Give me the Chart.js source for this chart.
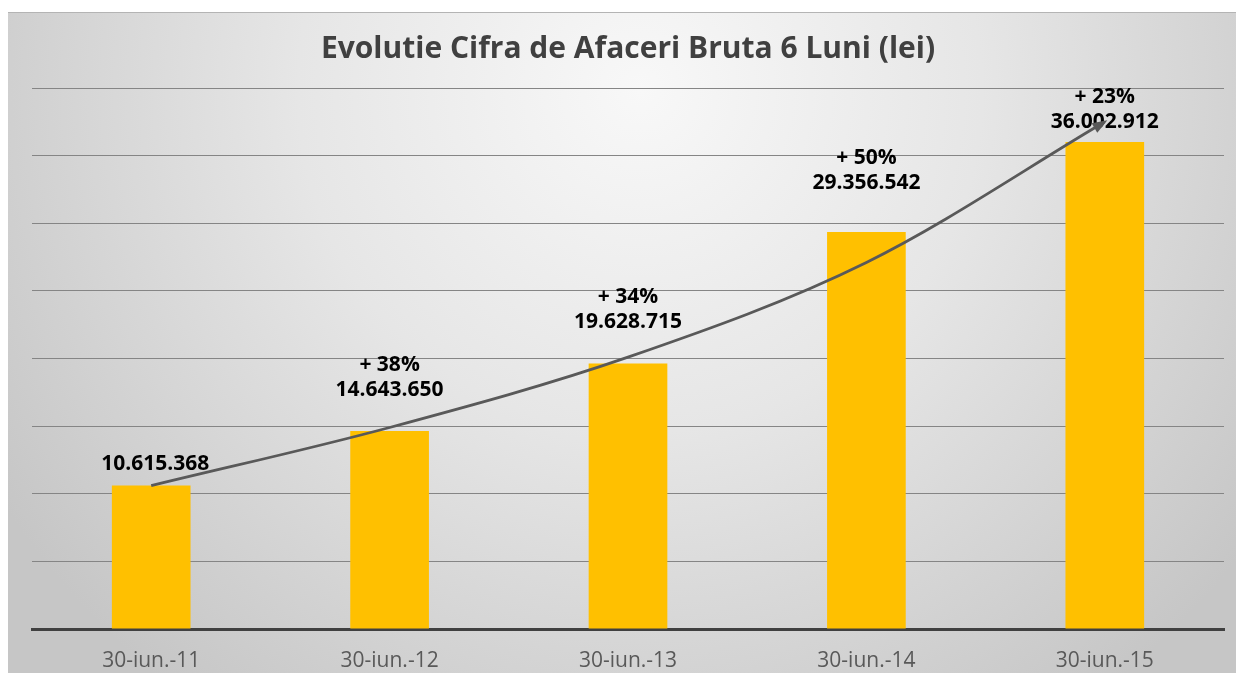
<!DOCTYPE html>
<html>
<head>
<meta charset="utf-8">
<script src="https://cdn.jsdelivr.net/npm/chart.js@4/dist/chart.umd.min.js"></script>
<style>
  html, body { margin: 0; padding: 0; background: #ffffff; }
  #wrap { width: 1236px; height: 673px; position: relative; }
</style>
</head>
<body>
<div id="wrap"><canvas id="c" width="1236" height="673"></canvas></div>
<script>
// ---- data ----
const categories = ['30-iun.-11', '30-iun.-12', '30-iun.-13', '30-iun.-14', '30-iun.-15'];
const revenue = [10615368, 14643650, 19628715, 29356542, 36002912];
const growth = ['', '+ 38%', '+ 34%', '+ 50%', '+ 23%'];
const trend = [10600000, 14900000, 20100000, 27100000, 37500000]; // read from the curved arrow
const yMin = 0;
const yMax = 40000000;
const yStep = 5000000;
const chartTitle = 'Evolutie Cifra de Afaceri Bruta 6 Luni (lei)';

// ---- helpers ----
function fmt(v) { return String(v).replace(/\B(?=(\d{3})+(?!\d))/g, '.'); }

const labelLift = [21, 41, 42, 49, 20]; // px above bar top for value line

const bgPlugin = {
  id: 'bg',
  beforeDraw(chart) {
    const ctx = chart.ctx;
    ctx.save();
    ctx.fillStyle = '#ffffff';
    ctx.fillRect(0, 0, chart.width, chart.height);
    const g = ctx.createRadialGradient(640, 90, 0, 640, 90, 760);
    g.addColorStop(0, '#f8f8f8');
    g.addColorStop(0.45, '#e6e6e6');
    g.addColorStop(1, '#c6c6c6');
    ctx.fillStyle = g;
    ctx.fillRect(8, 12, chart.width - 8, chart.height - 12);
    ctx.strokeStyle = '#b4b4b4';
    ctx.lineWidth = 1;
    ctx.beginPath();
    ctx.moveTo(8, 12.5);
    ctx.lineTo(chart.width, 12.5);
    ctx.stroke();
    ctx.restore();
  }
};

const labelPlugin = {
  id: 'labels',
  beforeDatasetsDraw(chart) {
    const ctx = chart.ctx;
    const meta = chart.getDatasetMeta(0);
    ctx.save();
    ctx.fillStyle = '#000000';
    ctx.textAlign = 'center';
    ctx.textBaseline = 'middle';
    ctx.font = 'bold 21px "Open Sans"';
    meta.data.forEach((bar, i) => {
      const x = bar.x + (i === 0 ? 4 : 0);
      const y = bar.y - labelLift[i];
      ctx.fillText(fmt(revenue[i]), x, y);
      if (growth[i]) ctx.fillText(growth[i], x, y - 25);
    });
    ctx.restore();
  },
  afterDatasetsDraw(chart) {
    const ctx = chart.ctx;
    const meta = chart.getDatasetMeta(1);
    const pts = meta.data;
    const last = pts[pts.length - 1];
    const cx = last.cp1x !== undefined ? last.cp1x : pts[pts.length - 2].x;
    const cy = last.cp1y !== undefined ? last.cp1y : pts[pts.length - 2].y;
    const ang = Math.atan2(last.y - cy, last.x - cx);
    const L = 12, W = 5.5;
    ctx.save();
    ctx.fillStyle = '#595959';
    ctx.beginPath();
    ctx.moveTo(last.x + Math.cos(ang) * 3, last.y + Math.sin(ang) * 3);
    ctx.lineTo(last.x - Math.cos(ang) * L + Math.sin(ang) * W, last.y - Math.sin(ang) * L - Math.cos(ang) * W);
    ctx.lineTo(last.x - Math.cos(ang) * L - Math.sin(ang) * W, last.y - Math.sin(ang) * L + Math.cos(ang) * W);
    ctx.closePath();
    ctx.fill();
    ctx.restore();
  }
};

new Chart(document.getElementById('c'), {
  data: {
    labels: categories,
    datasets: [
      {
        type: 'bar',
        data: revenue,
        backgroundColor: '#FFC000',
        borderWidth: 0,
        barPercentage: 0.33,
        categoryPercentage: 1.0,
        order: 2
      },
      {
        type: 'line',
        data: trend,
        borderColor: '#595959',
        borderWidth: 2.8,
        pointRadius: 0,
        fill: false,
        cubicInterpolationMode: 'monotone',
        order: 1
      }
    ]
  },
  options: {
    responsive: false,
    animation: false,
    devicePixelRatio: 1,
    layout: { padding: { left: 32, right: 12, top: 12, bottom: 0 } },
    plugins: {
      legend: { display: false },
      tooltip: { enabled: false },
      title: {
        display: true,
        text: chartTitle,
        color: '#404040',
        font: { family: 'Open Sans', size: 30, weight: 'bold' },
        padding: { top: 19, bottom: 21 }
      }
    },
    scales: {
      x: {
        offset: true,
        grid: { display: false, drawTicks: false },
        border: { display: true, color: '#404040', width: 3 },
        ticks: {
          color: '#595959',
          font: { family: 'Open Sans', size: 21 },
          padding: 19,
          maxRotation: 0
        },
        afterFit(scale) { scale.height = 44; }
      },
      y: {
        min: yMin,
        max: yMax,
        ticks: { display: false, stepSize: yStep },
        grid: { color: '#858585', lineWidth: 1, drawTicks: false },
        border: { display: false }
      }
    }
  },
  plugins: [bgPlugin, labelPlugin]
});
</script>
</body>
</html>
